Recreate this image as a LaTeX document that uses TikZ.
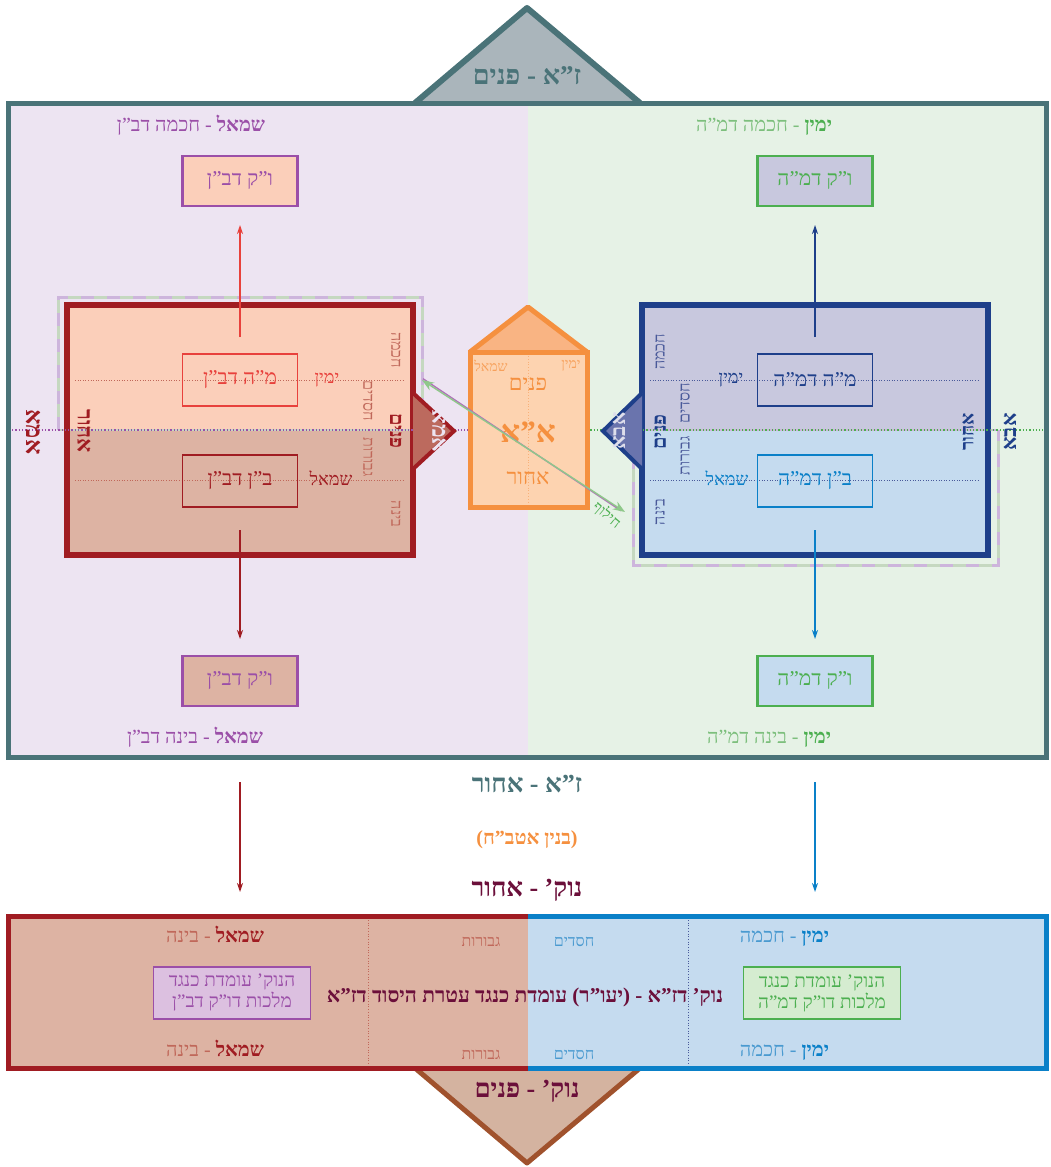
\documentclass[tikz,border=0pt]{standalone}
\usepackage{fontspec}
\setmainfont[Script=Hebrew]{Liberation Serif}
\TeXXeTstate=1
\usetikzlibrary{arrows.meta}
\newcommand{\HebT}[1]{\beginR #1\endR}
\newcommand{\FS}[1]{\fontsize{#1}{#1}\selectfont}
\definecolor{cFrame}{HTML}{4A7378}
\definecolor{cTriTop}{HTML}{AAB5BB}
\definecolor{cLpur}{HTML}{EDE4F2}
\definecolor{cRgrn}{HTML}{E6F2E6}
\definecolor{cPur}{HTML}{9B4FA8}
\definecolor{cGrn}{HTML}{4CAF50}
\definecolor{cGrnT}{HTML}{7DBF7D}
\definecolor{cGrnL}{HTML}{8FC88A}
\definecolor{cSalL}{HTML}{FBCFBA}
\definecolor{cSalD}{HTML}{DDB3A3}
\definecolor{cRed}{HTML}{E8413C}
\definecolor{cDRed}{HTML}{A01C22}
\definecolor{cMute}{HTML}{C0685A}
\definecolor{cLav}{HTML}{C8C8DE}
\definecolor{cLblu}{HTML}{C5DBEF}
\definecolor{cNavy}{HTML}{1E3F8A}
\definecolor{cBlu}{HTML}{0A80C8}
\definecolor{cBluT}{HTML}{4A9AD0}
\definecolor{cNavyT}{HTML}{4A5A9A}
\definecolor{cOrg}{HTML}{F5903F}
\definecolor{cOrgF}{HTML}{FDD3B0}
\definecolor{cOrgR}{HTML}{F9B483}
\definecolor{cMaroon}{HTML}{6B0F3A}
\definecolor{cBotTri}{HTML}{D4B3A0}
\definecolor{cBrown}{HTML}{A0522D}
\definecolor{cDashP}{HTML}{CDB5DC}
\definecolor{cDashG}{HTML}{C5D8C0}
\definecolor{cTriL}{HTML}{BC6A5E}
\definecolor{cTriR}{HTML}{6A74AD}
\definecolor{cBoxP}{HTML}{DCC0E0}
\definecolor{cBoxG}{HTML}{D5ECD0}
\tikzset{
  vkbox/.style={draw, line width=2.4pt, minimum width=115pt, minimum height=50pt, font=\FS{21}},
  ibox/.style={draw, line width=1.8pt, minimum width=115pt, minimum height=52pt, font=\FS{21}},
  arr/.style={line width=1.3pt, -{Stealth[length=9pt,width=6pt]}},
  vlab/.style={font=\FS{16}},
  dashp/.style={cDashP, line width=3pt, dash pattern=on 13pt off 13pt},
  dashg/.style={cDashG, line width=3pt, dash pattern=on 13pt off 13pt, dash phase=13pt},
  nbox/.style={draw, line width=1.8pt, align=center, minimum width=157pt, minimum height=52pt, font=\fontsize{19}{21}\selectfont},
  hd/.style={anchor=base east, font=\FS{20}},
}
\begin{document}
\begin{tikzpicture}[x=1pt,y=-1pt, every node/.style={inner sep=0pt, outer sep=0pt}]
\useasboundingbox (0,0) rectangle (1050,1167);
% ---- main frame
\fill[cLpur] (8,103) rectangle (528,757);
\fill[cRgrn] (528,103) rectangle (1046,757);
\fill[cTriTop] (415,103) -- (527,8) -- (640,103) -- cycle;
\draw[cFrame, line width=6pt, line join=round] (415,103) -- (527,8) -- (640,103);
\draw[cFrame, line width=5pt] (8,103) rectangle (1046,757);
\node[text=cFrame, font=\FS{27}\bfseries] (zaP) at (527,76) {\HebT{ז"א - פנים}};
% headers
\node[text=cPur, font=\FS{20}] (hL) at (191,125) {\HebT{{\bfseries שמאל} - חכמה דב"ן}};
\node[hd, text=cGrn, font=\FS{20}\bfseries] (hRa) at (832,131) {\HebT{ימין}};
\node[hd, text=cGrnT] (hRb) at ([xshift=-5pt]hRa.base west) {\HebT{- חכמה דמ"ה}};
\node[text=cPur, font=\FS{20}] (fL) at (195,737) {\HebT{{\bfseries שמאל} - בינה דב"ן}};
\node[hd, text=cGrn, font=\FS{20}\bfseries] (fRa) at (831,743) {\HebT{ימין}};
\node[hd, text=cGrnT] (fRb) at ([xshift=-5pt]fRa.base west) {\HebT{- בינה דמ"ה}};
% vk boxes
\node[vkbox, draw=cPur, fill=cSalL, text=cPur] (vkL) at (240,181) {\HebT{ו"ק דב"ן}};
\node[vkbox, draw=cGrn, fill=cLav, text=cGrn] (vkR) at (815,181) {\HebT{ו"ק דמ"ה}};
\node[vkbox, draw=cPur, fill=cSalD, text=cPur] (vkL2) at (240,681) {\HebT{ו"ק דב"ן}};
\node[vkbox, draw=cGrn, fill=cLblu, text=cGrn] (vkR2) at (815,681) {\HebT{ו"ק דמ"ה}};
% ---- left box
\fill[cSalL] (67,305) rectangle (413,430);
\fill[cSalD] (67,430) rectangle (413,555);
\draw[cMute, dotted, line width=0.6pt] (75,380) -- (405,380);
\draw[cMute, dotted, line width=0.6pt] (75,480) -- (405,480);
\draw[dashp] (58,430) -- (58,297) -- (422,297) -- (422,430);
\draw[dashg] (58,430) -- (58,297) -- (422,297) -- (422,430);
\draw[cDashG, line width=2pt] (58,430) -- (422,430);
\node[draw=cDRed, line width=6pt, minimum width=346pt, minimum height=250pt] (boxL) at (240,430) {};
% ---- right box
\fill[cLav] (642,305) rectangle (988,430);
\fill[cLblu] (642,430) rectangle (988,555);
\draw[cNavyT, dotted, line width=0.6pt] (650,380) -- (980,380);
\draw[cNavyT, dotted, line width=0.6pt] (650,480) -- (980,480);
\draw[dashp] (633,430) -- (633,565) -- (998,565) -- (998,430);
\draw[dashg] (633,430) -- (633,565) -- (998,565) -- (998,430);
\draw[cDashP, line width=2pt] (633,430) -- (998,430);
\node[draw=cNavy, line width=6pt, minimum width=346pt, minimum height=250pt] (boxR) at (815,430) {};
% middle dotted line
\draw[cPur, dotted, line width=1.3pt] (12,430) -- (470,430);
\draw[cGrn, dotted, line width=1.3pt] (587,430) -- (1043,430);
% side triangles
\fill[cTriL] (413,393) -- (454,431) -- (413,469) -- cycle;
\draw[cDRed, line width=4pt] (413,393) -- (454,431) -- (413,469);
\fill[cTriR] (642,393) -- (603,431) -- (642,469) -- cycle;
\draw[cNavy, line width=4pt] (642,393) -- (603,431) -- (642,469);
\node[rotate=-90, text=cLpur, font=\FS{23}\bfseries] (imaT) at (439,431) {\HebT{אמא}};
\node[rotate=90, text=cLav!60!white, font=\FS{21}\bfseries] (abaT) at (619,431) {\HebT{אבא}};
% inner boxes
\node[ibox, draw=cRed, text=cRed] (mhL) at (240,380) {\HebT{מ"ה דב"ן}};
\node[ibox, draw=cDRed, text=cDRed] (bnL) at (240,481) {\HebT{ב"ן דב"ן}};
\node[ibox, draw=cNavy, text=cNavy] (mhR) at (815,380) {\HebT{מ"ה דמ"ה}};
\node[ibox, draw=cBlu, text=cBlu] (bnR) at (815,481) {\HebT{ב"ן דמ"ה}};
\node[text=cRed, font=\FS{18}] (ymL) at (327,380) {\HebT{ימין}};
\node[text=cDRed, font=\FS{18}] (smL) at (331,478) {\HebT{שמאל}};
\node[text=cNavy, font=\FS{18}] (ymR) at (731,380) {\HebT{ימין}};
\node[text=cBlu, font=\FS{18}] (smR) at (727,478) {\HebT{שמאל}};
% arrows
\draw[arr, cRed] ([yshift=17pt]mhL.north) -- ([yshift=-19pt]vkL.south);
\draw[arr, cNavy] ([yshift=17pt]mhR.north) -- ([yshift=-19pt]vkR.south);
\draw[arr, cDRed] ([yshift=-23pt]bnL.south) -- ([yshift=17pt]vkL2.north);
\draw[arr, cBlu] ([yshift=-23pt]bnR.south) -- ([yshift=17pt]vkR2.north);
% vertical labels left box
\node[vlab, rotate=-90, text=cMute] (lH) at (396,350) {\HebT{חכמה}};
\node[vlab, rotate=-90, text=cMute] (lC) at (368,401) {\HebT{חסדים}};
\node[rotate=-90, text=cDRed, font=\FS{20}\bfseries] (lP) at (396,431) {\HebT{פנים}};
\node[vlab, rotate=-90, text=cMute] (lG) at (368,457) {\HebT{גבורות}};
\node[vlab, rotate=-90, text=cMute] (lB) at (396,514) {\HebT{בינה}};
% vertical labels right box
\node[vlab, rotate=90, text=cNavyT] (rH) at (660,352) {\HebT{חכמה}};
\node[vlab, rotate=90, text=cNavyT] (rC) at (685,403) {\HebT{חסדים}};
\node[rotate=90, text=cNavy, font=\FS{20}\bfseries] (rP) at (660,432) {\HebT{פנים}};
\node[vlab, rotate=90, text=cNavyT] (rG) at (685,456) {\HebT{גבורות}};
\node[vlab, rotate=90, text=cNavyT] (rB) at (660,512) {\HebT{בינה}};
% outer vertical labels
\node[rotate=-90, text=cDRed, font=\FS{24}\bfseries] (imaO) at (33,432) {\HebT{אמא}};
\node[rotate=-90, text=cDRed, font=\FS{22}\bfseries] (achL) at (84,431) {\HebT{אחור}};
\node[rotate=90, text=cNavy, font=\FS{19}\bfseries] (achR) at (968,432) {\HebT{אחור}};
\node[rotate=90, text=cNavy, font=\FS{21}\bfseries] (abaO) at (1010,432) {\HebT{אבא}};
% ---- center house
\fill[cOrgR] (470,352) -- (528,307) -- (587,352) -- cycle;
\draw[cOrg, line width=5pt, line join=round] (470,352) -- (528,307) -- (587,352);
\node[draw=cOrg, fill=cOrgF, line width=5pt, minimum width=117pt, minimum height=155pt] (aa) at (528.5,429.5) {};
\draw[cOrg!70, dotted, line width=0.8pt] (528,356) -- (528,504);
\node[text=cOrg!85, font=\FS{14}] (aaS) at (491,366) {\HebT{שמאל}};
\node[text=cOrg!85, font=\FS{14}] (aaY) at (571,366) {\HebT{ימין}};
\node[text=cOrg, font=\FS{22}] (aaP) at (528,384) {\HebT{פנים}};
\node[text=cOrg, font=\FS{31}\bfseries] (aaN) at (528,432) {\HebT{א"א}};
\node[text=cOrg, font=\FS{22}] (aaA) at (528,478) {\HebT{אחור}};
% diagonal exchange arrow
\coordinate (dA) at (422,380);
\coordinate (dB) at (625,512);
\draw[cPur!80, line width=1.4pt] ([yshift=1.3pt,xshift=1pt]dA) -- ([yshift=1.3pt,xshift=-4pt]dB);
\draw[cGrnL, line width=1.4pt, {Stealth[length=12pt,width=9pt]}-{Stealth[length=12pt,width=9pt]}] (dA) -- (dB);
\node[rotate=-40, text=cGrn, font=\FS{15}] (chil) at (607,515) {\HebT{חילוף}};
% ---- below frame
\node[text=cFrame, font=\FS{26}\bfseries] (zaB) at (527,784) {\HebT{ז"א - אחור}};
\node[text=cOrg, font=\FS{20}\bfseries] (binyan) at (527,840) {\HebT{(בנין אטב"ח)}};
\node[text=cMaroon, font=\FS{26}\bfseries] (nukB) at (527,890) {\HebT{נוק' - אחור}};
\coordinate (aL1) at (240,782); \coordinate (aL2) at (240,892);
\coordinate (aR1) at (815,782); \coordinate (aR2) at (815,892);
\draw[arr, cDRed] (aL1) -- (aL2);
\draw[arr, cBlu] (aR1) -- (aR2);
% ---- bottom box
\fill[cBotTri] (415,1068) -- (527,1163) -- (640,1068) -- cycle;
\draw[cBrown, line width=5pt, line join=round] (415,1068) -- (527,1163) -- (640,1068);
\fill[cSalD] (8,916) rectangle (528,1068);
\fill[cLblu] (528,916) rectangle (1046,1068);
\draw[cMute, dotted, line width=0.7pt] (368,920) -- (368,1065);
\draw[cNavyT, dotted, line width=0.7pt] (688,920) -- (688,1065);
\draw[cDRed, line width=5pt] (528,916) -- (8,916) -- (8,1068) -- (528,1068);
\draw[cBlu, line width=5pt] (528,916) -- (1046,916) -- (1046,1068) -- (528,1068);
\node[text=cMaroon, font=\FS{26}\bfseries] (nukP) at (527,1091) {\HebT{נוק' - פנים}};
\node[hd, text=cDRed, font=\FS{20}\bfseries] (bS1a) at (264,942) {\HebT{שמאל}};
\node[hd, text=cMute] (bS1b) at ([xshift=-5pt]bS1a.base west) {\HebT{- בינה}};
\node[hd, text=cDRed, font=\FS{20}\bfseries] (bS2a) at (264,1056) {\HebT{שמאל}};
\node[hd, text=cMute] (bS2b) at ([xshift=-5pt]bS2a.base west) {\HebT{- בינה}};
\node[hd, text=cBlu, font=\FS{20}\bfseries] (bY1a) at (829,942) {\HebT{ימין}};
\node[hd, text=cBluT] (bY1b) at ([xshift=-5pt]bY1a.base west) {\HebT{- חכמה}};
\node[hd, text=cBlu, font=\FS{20}\bfseries] (bY2a) at (829,1056) {\HebT{ימין}};
\node[hd, text=cBluT] (bY2b) at ([xshift=-5pt]bY2a.base west) {\HebT{- חכמה}};
\node[text=cMute, font=\FS{16}] (gv1) at (481,942) {\HebT{גבורות}};
\node[text=cMute, font=\FS{16}] (gv2) at (481,1055) {\HebT{גבורות}};
\node[text=cBluT, font=\FS{16}] (hs1) at (574,942) {\HebT{חסדים}};
\node[text=cBluT, font=\FS{16}] (hs2) at (574,1055) {\HebT{חסדים}};
\node[text=cMaroon, font=\FS{21}\bfseries] (center) at (525,997) {\HebT{נוק' דז"א - (יעו"ר) עומדת כנגד עטרת היסוד דז"א}};
\node[nbox, draw=cPur, fill=cBoxP, text=cPur] (nL) at (232,993) {\HebT{הנוק' עומדת כנגד}\\\HebT{מלכות דו"ק דב"ן}};
\node[nbox, draw=cGrn, fill=cBoxG, text=cGrn] (nR) at (822,993) {\HebT{הנוק' עומדת כנגד}\\\HebT{מלכות דו"ק דמ"ה}};
\end{tikzpicture}
\end{document}
